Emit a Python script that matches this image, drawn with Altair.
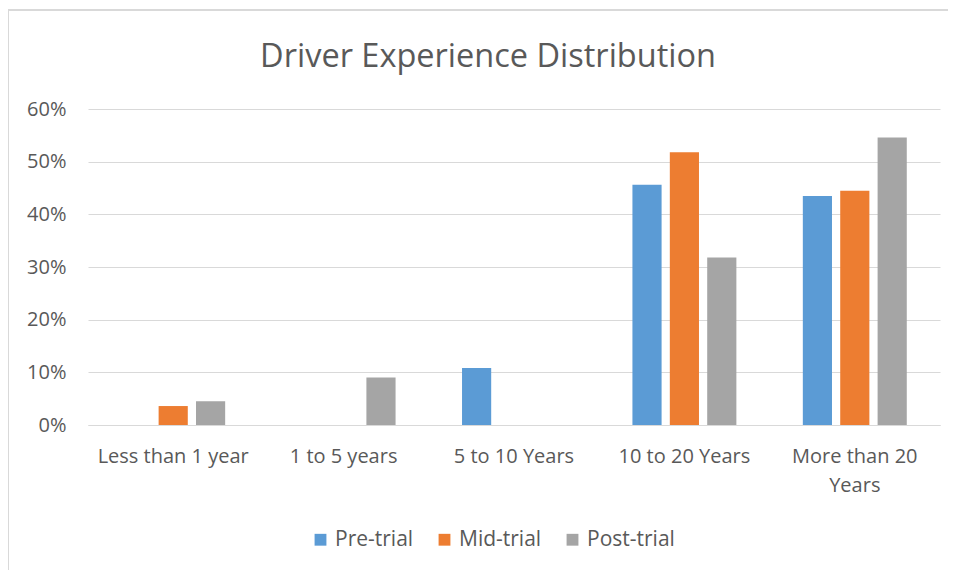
import altair as alt
import pandas as pd

categories = ["Less than 1 year", "1 to 5 years", "5 to 10 Years", "10 to 20 Years", "More than 20 Years"]
series = ["Pre-trial", "Mid-trial", "Post-trial"]
pre_trial = [0.0, 0.0, 10.8, 45.6, 43.5]
mid_trial = [3.6, 0.0, 0.0, 51.8, 44.5]
post_trial = [4.5, 9.0, 0.0, 31.8, 54.6]
colors = ["#5B9BD5", "#ED7D31", "#A5A5A5"]
title_text = "Driver Experience Distribution"

rows = []
for name, vals in zip(series, [pre_trial, mid_trial, post_trial]):
    for c, v in zip(categories, vals):
        rows.append({"category": c, "series": name, "value": v / 100.0})
df = pd.DataFrame(rows)

FONT = "Open Sans"
TEXT = "#595959"

bars = alt.Chart(df).mark_bar().encode(
    x=alt.X("category:N", sort=categories, title=None,
            scale=alt.Scale(paddingInner=0.39, paddingOuter=0.195),
            axis=alt.Axis(labelAngle=0, ticks=False, domainColor="#D9D9D9", domainWidth=1,
                          labelPadding=21, labelFontSize=20, labelColor=TEXT, labelFont=FONT,
                          labelLineHeight=29, labelLimit=300,
                          labelExpr="datum.label == 'More than 20 Years' ? ['More than 20', 'Years'] : datum.label")),
    xOffset=alt.XOffset("series:N", sort=series, scale=alt.Scale(paddingInner=0.22)),
    y=alt.Y("value:Q", title=None,
            scale=alt.Scale(domain=[0, 0.6]),
            axis=alt.Axis(format=".0%", values=[0, 0.1, 0.2, 0.3, 0.4, 0.5, 0.6], ticks=False, domain=False,
                          gridColor="#D9D9D9", gridWidth=1, labelPadding=22,
                          labelFontSize=20, labelColor=TEXT, labelFont=FONT)),
    color=alt.Color("series:N", sort=series,
                    scale=alt.Scale(domain=series, range=colors),
                    legend=alt.Legend(title=None, orient="none", legendX=222, legendY=420,
                                      direction="horizontal", symbolType="square", symbolSize=140,
                                      symbolStrokeWidth=0, labelFontSize=21, labelColor=TEXT, labelFont=FONT,
                                      columnPadding=20, labelOffset=4)),
)

frame = alt.Chart(df).mark_rect(fill=None, stroke="#D9D9D9", strokeWidth=1.5).encode(
    x=alt.value(-80), x2=alt.value(1000), y=alt.value(-99), y2=alt.value(700)
)

title = alt.Chart(pd.DataFrame({"t": [title_text]})).mark_text(
    font=FONT, fontSize=32.5, color=TEXT, align="center", baseline="middle"
).encode(text="t:N", x=alt.value(400), y=alt.value(-52))

chart = alt.layer(frame, bars, title).properties(
    width=852, height=316,
    autosize=alt.AutoSizeParams(type="none"),
    padding={"left": 80, "top": 101, "right": 8, "bottom": 145},
).configure_view(stroke=None)

chart.save("out.html", embed_options={"renderer": "svg", "actions": False})
